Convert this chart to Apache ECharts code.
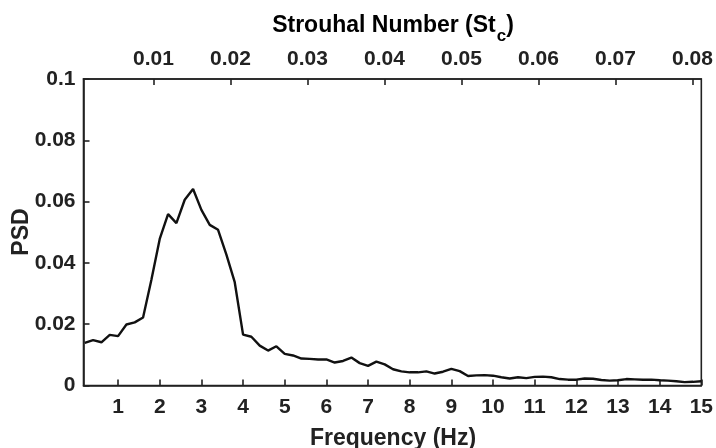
<!DOCTYPE html>
<html>
<head>
<meta charset="utf-8">
<script src="https://cdn.jsdelivr.net/npm/echarts@6/dist/echarts.min.js"></script>
<style>html,body{margin:0;padding:0;background:#fff}#c{width:716px;height:448px}</style>
</head>
<body>
<div id="c"></div>
<script>
// Data
const freq = [0.2,0.4,0.6,0.8,1.0,1.2,1.4,1.6,1.8,2.0,2.2,2.4,2.6,2.8,3.0,3.2,3.4,3.6,3.8,4.0,
  4.2,4.4,4.6,4.8,5.0,5.2,5.4,5.6,5.8,6.0,6.2,6.4,6.6,6.8,7.0,7.2,7.4,7.6,7.8,8.0,
  8.2,8.4,8.6,8.8,9.0,9.2,9.4,9.6,9.8,10.0,10.2,10.4,10.6,10.8,11.0,11.2,11.4,11.6,11.8,12.0,
  12.2,12.4,12.6,12.8,13.0,13.2,13.4,13.6,13.8,14.0,14.2,14.4,14.6,14.8,15.0];
const psd = [0.0139,0.0148,0.0141,0.0165,0.0161,0.0199,0.0206,0.0222,0.0345,0.0478,
  0.0559,0.0530,0.0606,0.0641,0.0573,0.0524,0.0508,0.0427,0.0337,0.0166,
  0.0159,0.0130,0.0114,0.0128,0.0103,0.0098,0.0088,0.0087,0.0085,0.0085,
  0.0075,0.0080,0.0091,0.0073,0.0064,0.0078,0.0069,0.0053,0.0046,0.0043,
  0.0043,0.0046,0.0039,0.0045,0.0054,0.0047,0.0031,0.0033,0.0034,0.0032,
  0.0027,0.0023,0.0027,0.0024,0.0028,0.0029,0.0027,0.0021,0.0019,0.0019,
  0.0023,0.0022,0.0018,0.0016,0.0017,0.0021,0.0020,0.0019,0.0019,0.0017,
  0.0016,0.0014,0.0011,0.0012,0.0014];
const freqTicks = [1,2,3,4,5,6,7,8,9,10,11,12,13,14,15];
const stTicks = [0.01,0.02,0.03,0.04,0.05,0.06,0.07,0.08];
const psdTicks = [0,0.02,0.04,0.06,0.08,0.1];
const stPerHz = 0.00541; // Strouhal number per Hz
const fMin = 0.17, fMax = 15;

const FONT = '"Liberation Sans", Arial, Helvetica, sans-serif';
const INK = '#222';
const chart = echarts.init(document.getElementById('c'), null, {renderer: 'canvas'});
const tickLabel = {fontFamily: FONT, fontWeight: 'bold', fontSize: 21, color: INK};

chart.setOption({
  animation: false,
  grid: {left: 83.5, right: 14, top: 79, bottom: 62.5, show: true, borderColor: INK, borderWidth: 1.6, backgroundColor: 'transparent'},
  xAxis: [
    {
      type: 'value', position: 'bottom', min: fMin, max: fMax,
      axisLine: {show: true, lineStyle: {color: INK, width: 1.6}},
      axisTick: {show: true, inside: true, length: 6, lineStyle: {color: INK, width: 1.6}, customValues: freqTicks},
      axisLabel: Object.assign({customValues: freqTicks, margin: 11, formatter: v => String(v)}, tickLabel),
      splitLine: {show: false}
    },
    {
      type: 'value', position: 'top', min: fMin * stPerHz, max: fMax * stPerHz,
      axisLine: {show: true, lineStyle: {color: INK, width: 1.6}},
      axisTick: {show: true, inside: true, length: 6, lineStyle: {color: INK, width: 1.6}, customValues: stTicks},
      axisLabel: Object.assign({customValues: stTicks, margin: 9, formatter: v => v.toFixed(2)}, tickLabel),
      splitLine: {show: false}
    }
  ],
  yAxis: [{
    type: 'value', min: 0, max: 0.1, interval: 0.02,
    axisLine: {show: true, lineStyle: {color: INK, width: 1.6}},
    axisTick: {show: true, inside: true, length: 6, lineStyle: {color: INK, width: 1.6}},
    axisLabel: Object.assign({margin: 8, formatter: v => String(+v.toFixed(2))}, tickLabel),
    splitLine: {show: false}
  }],
  graphic: [
    {type: 'text', x: 393, y: 439, style: {text: 'Frequency (Hz)', textAlign: 'center', textVerticalAlign: 'middle', font: 'bold 23px ' + FONT, fill: INK}},
    {type: 'text', x: 22, y: 232, rotation: Math.PI / 2, style: {text: 'PSD', textAlign: 'center', textVerticalAlign: 'middle', font: 'bold 23px ' + FONT, fill: INK}},
    {type: 'text', x: 393, y: 26, style: {
      text: '{a|Strouhal Number (St}{s|c}{a|)}', textAlign: 'center', textVerticalAlign: 'middle',
      rich: {
        a: {fontFamily: FONT, fontWeight: 'bold', fontSize: 23, color: INK},
        s: {fontFamily: FONT, fontWeight: 'bold', fontSize: 17, color: INK, padding: [20, 0, 0, 1]}
      }
    }}
  ],
  series: [{
    type: 'line', xAxisIndex: 0, yAxisIndex: 0,
    data: freq.map((f, i) => [f, psd[i]]),
    showSymbol: false, smooth: false,
    lineStyle: {color: '#111', width: 2.4},
    clip: true
  }]
});
</script>
</body>
</html>
